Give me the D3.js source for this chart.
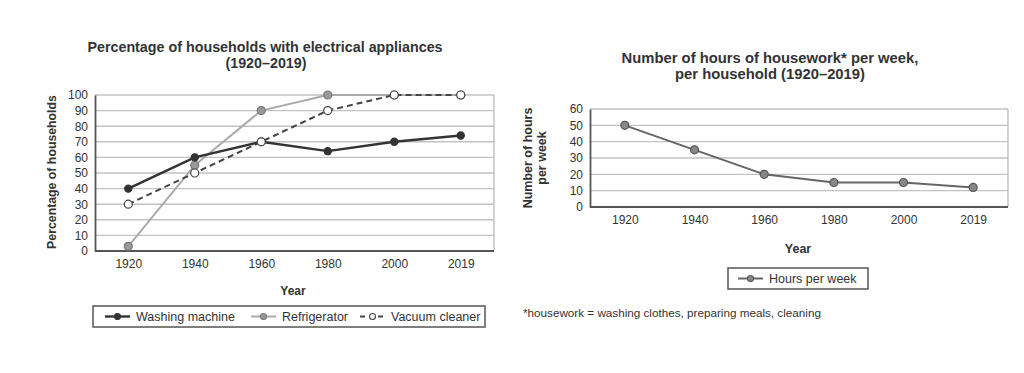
<!DOCTYPE html>
<html>
<head>
<meta charset="utf-8">
<script src="https://cdn.jsdelivr.net/npm/d3@7"></script>
<style>
  body { margin: 0; background: #fff; }
  svg { font-family: "Liberation Sans", Arial, sans-serif; }
</style>
</head>
<body>
<div id="chart"></div>
<script>
// Data
const years = ["1920", "1940", "1960", "1980", "2000", "2019"];
const washingMachine = [40, 60, 70, 64, 70, 74];
const refrigerator = [3, 55, 90, 100, 100, 100];
const vacuumCleaner = [30, 50, 70, 90, 100, 100];
const hoursPerWeek = [50, 35, 20, 15, 15, 12];
const pctTicks = [0, 10, 20, 30, 40, 50, 60, 70, 80, 90, 100];
const hourTicks = [0, 10, 20, 30, 40, 50, 60];

const svg = d3.select("#chart")
  .append("svg")
  .attr("width", 1024)
  .attr("height", 373);

svg.append("rect").attr("width", 1024).attr("height", 373).attr("fill", "#fff");

// draws gridded frame + axes, returns scales
function frame(g, x0, x1, y0, y1, ymax, ticks) {
  const x = d3.scalePoint().domain(years).range([x0, x1]).padding(0.5);
  const y = d3.scaleLinear().domain([0, ymax]).range([y1, y0]);

  // gridlines
  g.append("g")
    .selectAll("line")
    .data(ticks.slice(1))
    .enter()
    .append("line")
    .attr("x1", x0).attr("x2", x1)
    .attr("y1", d => y(d)).attr("y2", d => y(d))
    .attr("stroke", "#c2c2c2")
    .attr("stroke-width", 1.4);

  // right border
  g.append("line")
    .attr("x1", x1).attr("x2", x1).attr("y1", y0).attr("y2", y1)
    .attr("stroke", "#bbb").attr("stroke-width", 1.3);

  // y axis
  const ya = g.append("g")
    .attr("transform", `translate(${x0},0)`)
    .call(d3.axisLeft(y).tickValues(ticks).tickSize(0).tickPadding(7));
  ya.select(".domain").attr("stroke", "#555").attr("stroke-width", 1.8);
  ya.selectAll("text")
    .attr("font-size", 12)
    .attr("fill", "#333")
    .attr("font-family", "Liberation Sans, Arial, sans-serif");

  // x axis
  const xa = g.append("g")
    .attr("transform", `translate(0,${y1})`)
    .call(d3.axisBottom(x).tickSize(0).tickPadding(8));
  xa.select(".domain")
    .attr("d", `M${x0},0H${x1}`)
    .attr("stroke", "#555").attr("stroke-width", 1.8);
  xa.selectAll("text")
    .attr("font-size", 12)
    .attr("fill", "#333")
    .attr("font-family", "Liberation Sans, Arial, sans-serif");

  return { x, y };
}

function series(g, x, y, values, st) {
  const line = d3.line()
    .x((d, i) => x(years[i]))
    .y(d => y(d));
  g.append("path")
    .datum(values)
    .attr("d", line)
    .attr("fill", "none")
    .attr("stroke", st.line)
    .attr("stroke-width", st.width)
    .attr("stroke-dasharray", st.dash || null);
  g.selectAll(null)
    .data(values)
    .enter()
    .append("circle")
    .attr("cx", (d, i) => x(years[i]))
    .attr("cy", d => y(d))
    .attr("r", st.r)
    .attr("fill", st.fill)
    .attr("stroke", st.stroke)
    .attr("stroke-width", 1.2);
}

function legendItem(g, x, y, st, label) {
  g.append("line")
    .attr("x1", x).attr("x2", x + 25)
    .attr("y1", y).attr("y2", y)
    .attr("stroke", st.line)
    .attr("stroke-width", st.width)
    .attr("stroke-dasharray", st.dash ? "5,4" : null);
  g.append("circle")
    .attr("cx", x + 12.5).attr("cy", y).attr("r", 3)
    .attr("fill", st.fill).attr("stroke", st.stroke).attr("stroke-width", 1.1);
  g.append("text")
    .attr("x", x + 31).attr("y", y)
    .attr("dy", "0.35em")
    .attr("font-size", 12.5)
    .attr("fill", "#333")
    .text(label);
}

const styles = {
  washing: { line: "#333", width: 2.4, r: 3.6, fill: "#333", stroke: "#333" },
  fridge: { line: "#aaa", width: 2, r: 4, fill: "#999", stroke: "#777" },
  vacuum: { line: "#444", width: 2, dash: "6,4", r: 4, fill: "#fff", stroke: "#444" },
  hours: { line: "#666", width: 2, r: 4, fill: "#888", stroke: "#555" }
};

// ---- Left chart
const left = svg.append("g");

left.append("text")
  .attr("x", 265).attr("y", 52)
  .attr("text-anchor", "middle")
  .attr("font-size", 14.3).attr("font-weight", "bold").attr("fill", "#333")
  .text("Percentage of households with electrical appliances");
left.append("text")
  .attr("x", 266).attr("y", 68)
  .attr("text-anchor", "middle")
  .attr("font-size", 14.3).attr("font-weight", "bold").attr("fill", "#333")
  .text("(1920\u20132019)");

const L = frame(left, 95, 494, 95, 251, 100, pctTicks);

left.append("text")
  .attr("transform", "rotate(-90)")
  .attr("x", -172).attr("y", 56)
  .attr("text-anchor", "middle")
  .attr("font-size", 12.3).attr("font-weight", "bold").attr("fill", "#333")
  .text("Percentage of households");

left.append("text")
  .attr("x", 293).attr("y", 295)
  .attr("text-anchor", "middle")
  .attr("font-size", 12).attr("font-weight", "bold").attr("fill", "#333")
  .text("Year");

series(left, L.x, L.y, refrigerator, styles.fridge);
series(left, L.x, L.y, washingMachine, styles.washing);
series(left, L.x, L.y, vacuumCleaner, styles.vacuum);

left.append("rect")
  .attr("x", 93).attr("y", 306).attr("width", 392).attr("height", 21)
  .attr("fill", "none").attr("stroke", "#555").attr("stroke-width", 1.5);
legendItem(left, 105, 316.5, styles.washing, "Washing machine");
legendItem(left, 251, 316.5, styles.fridge, "Refrigerator");
legendItem(left, 360, 316.5, styles.vacuum, "Vacuum cleaner");

// ---- Right chart
const right = svg.append("g");

right.append("text")
  .attr("x", 770).attr("y", 63)
  .attr("text-anchor", "middle")
  .attr("font-size", 14.8).attr("font-weight", "bold").attr("fill", "#333")
  .text("Number of hours of housework* per week,");
right.append("text")
  .attr("x", 770).attr("y", 79)
  .attr("text-anchor", "middle")
  .attr("font-size", 14.8).attr("font-weight", "bold").attr("fill", "#333")
  .text("per household (1920\u20132019)");

const R = frame(right, 590, 1008, 109, 207, 60, hourTicks);

const ylab = right.append("text")
  .attr("transform", "rotate(-90)")
  .attr("text-anchor", "middle")
  .attr("font-size", 12.5).attr("font-weight", "bold").attr("fill", "#333");
ylab.append("tspan").attr("x", -158).attr("y", 532).text("Number of hours");
ylab.append("tspan").attr("x", -158).attr("y", 546).text("per week");

right.append("text")
  .attr("x", 798).attr("y", 253)
  .attr("text-anchor", "middle")
  .attr("font-size", 12.5).attr("font-weight", "bold").attr("fill", "#333")
  .text("Year");

series(right, R.x, R.y, hoursPerWeek, styles.hours);

right.append("rect")
  .attr("x", 728).attr("y", 268).attr("width", 140).attr("height", 21)
  .attr("fill", "none").attr("stroke", "#555").attr("stroke-width", 1.5);
legendItem(right, 738, 278.5, styles.hours, "Hours per week");

right.append("text")
  .attr("x", 523).attr("y", 317)
  .attr("font-size", 11.7).attr("fill", "#333")
  .text("*housework = washing clothes, preparing meals, cleaning");
</script>
</body>
</html>
